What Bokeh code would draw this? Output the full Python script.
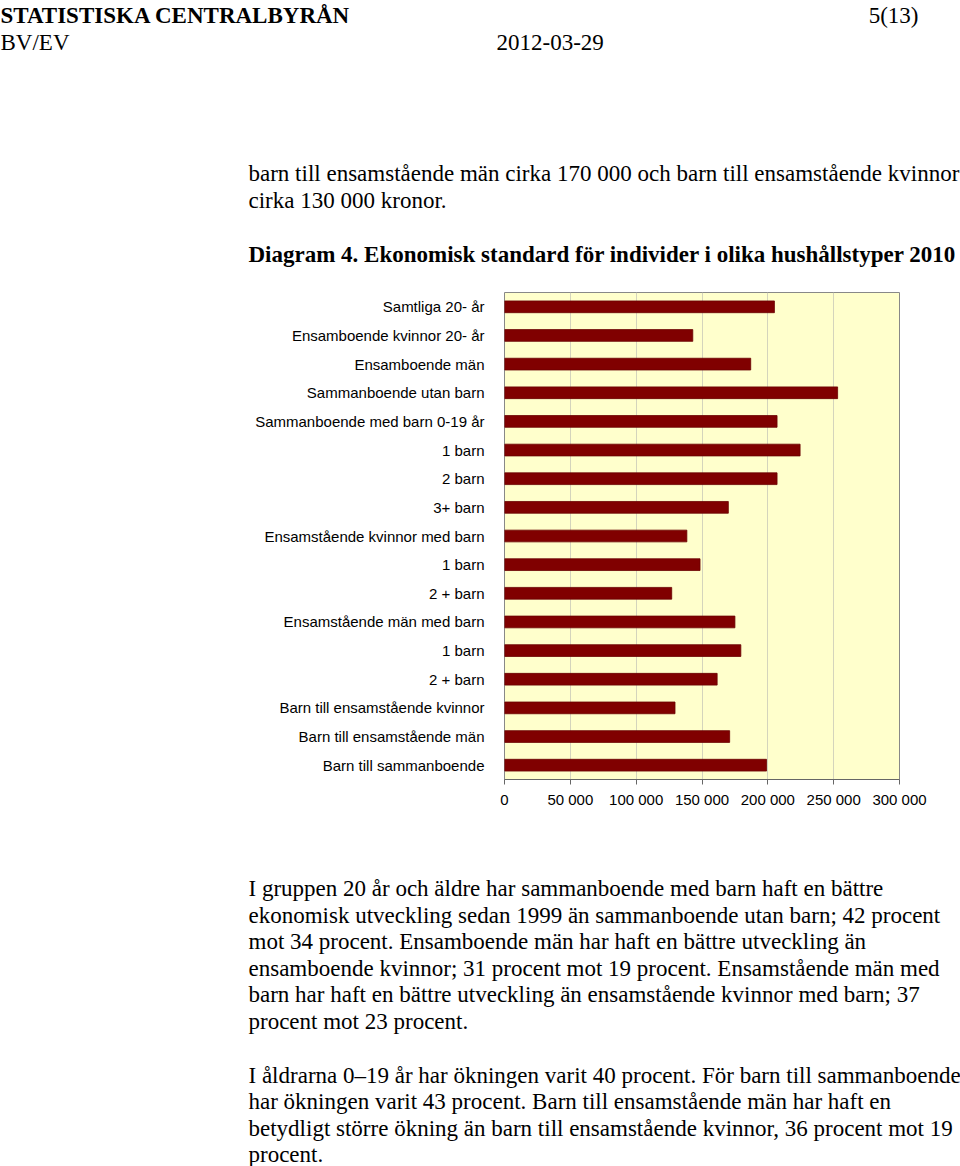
from bokeh.plotting import figure
from bokeh.models import Range1d, FixedTicker
from bokeh.layouts import column, row
from bokeh.core.properties import value
from bokeh.embed import file_html
from bokeh.resources import INLINE

categories = [
    "Samtliga 20- år",
    "Ensamboende kvinnor 20- år",
    "Ensamboende män",
    "Sammanboende utan barn",
    "Sammanboende med barn 0-19 år",
    "1 barn",
    "2 barn",
    "3+ barn",
    "Ensamstående kvinnor med barn",
    "1 barn",
    "2 + barn",
    "Ensamstående män med barn",
    "1 barn",
    "2 + barn",
    "Barn till ensamstående kvinnor",
    "Barn till ensamstående män",
    "Barn till sammanboende",
]
values = [205000, 143000, 187000, 253000, 207000, 224500, 207000, 170000,
          138500, 148500, 127000, 175000, 179500, 161500, 129500, 171000, 199000]
x_ticks = [0, 50000, 100000, 150000, 200000, 250000, 300000]
x_tick_labels = ["0", "50 000", "100 000", "150 000", "200 000", "250 000", "300 000"]

header_left = ["STATISTISKA CENTRALBYRÅN", "BV/EV"]
page_number = "5(13)"
doc_date = "2012-03-29"
intro_lines = [
    "barn till ensamstående män cirka 170 000 och barn till ensamstående kvinnor",
    "cirka 130 000 kronor.",
]
chart_title = "Diagram 4. Ekonomisk standard för individer i olika hushållstyper 2010"
para1 = [
    "I gruppen 20 år och äldre har sammanboende med barn haft en bättre",
    "ekonomisk utveckling sedan 1999 än sammanboende utan barn; 42 procent",
    "mot 34 procent. Ensamboende män har haft en bättre utveckling än",
    "ensamboende kvinnor; 31 procent mot 19 procent. Ensamstående män med",
    "barn har haft en bättre utveckling än ensamstående kvinnor med barn; 37",
    "procent mot 23 procent.",
]
para2 = [
    "I åldrarna 0–19 år har ökningen varit 40 procent. För barn till sammanboende",
    "har ökningen varit 43 procent. Barn till ensamstående män har haft en",
    "betydligt större ökning än barn till ensamstående kvinnor, 36 procent mot 19",
    "procent.",
]

W = 960
TOP_H, CHART_H, BOT_H = 275, 585, 306
SERIF = value("Liberation Serif")
FS = value("23px")


def text_fig(height):
    f = figure(width=W, height=height, output_backend="svg", toolbar_location=None,
               x_range=Range1d(0, W), y_range=Range1d(height, 0),
               min_border=0, min_border_left=0, min_border_right=0,
               min_border_top=0, min_border_bottom=0)
    f.axis.visible = False
    f.grid.visible = False
    f.outline_line_color = None
    f.background_fill_color = "white"
    f.border_fill_color = "white"
    return f


def put(f, xs, ys, texts, bold=False, align="left"):
    f.text(x=xs, y=ys, text=texts, text_font=SERIF, text_font_size=FS,
           text_font_style="bold" if bold else "normal", text_align=align,
           text_baseline="middle", text_color="black")


# ---- top text block
top = text_fig(TOP_H)
put(top, [0], [15], [header_left[0]], bold=True)
put(top, [0], [42], [header_left[1]])
put(top, [918], [15], [page_number], align="right")
put(top, [496], [42], [doc_date])
put(top, [248] * len(intro_lines), [173 + i * 26.5 for i in range(len(intro_lines))], intro_lines)
put(top, [248], [254], [chart_title], bold=True)

# ---- chart
n = len(categories)
ypos = [n - 1 - i for i in range(n)]
p = figure(width=W, height=CHART_H, output_backend="svg", toolbar_location=None,
           x_range=Range1d(0, 300000), y_range=Range1d(-0.5, n - 0.5),
           min_border_left=504, min_border_right=61, min_border_top=292 - TOP_H,
           min_border_bottom=TOP_H + CHART_H - 779, border_fill_color="white")
p.background_fill_color = "#FFFFCC"
p.outline_line_color = "#888888"
p.outline_line_width = 1

p.hbar(y=ypos, left=0, right=values, height=0.41,
       fill_color="#800000", line_color="#6a0000", line_width=0.8)

p.xaxis.ticker = FixedTicker(ticks=x_ticks)
p.xaxis.major_label_overrides = {t: l for t, l in zip(x_ticks, x_tick_labels)}
p.xaxis.axis_line_color = "#666666"
p.xaxis.major_tick_line_color = "#666666"
p.xaxis.major_tick_in = 0
p.xaxis.major_tick_out = 5
p.xaxis.minor_tick_line_color = None
p.xaxis.major_label_text_font = "Liberation Sans"
p.xaxis.major_label_text_font_size = "15px"
p.xaxis.major_label_text_color = "black"
p.xaxis.major_label_standoff = 6

p.yaxis.ticker = FixedTicker(ticks=ypos)
p.yaxis.major_label_overrides = {y: c for y, c in zip(ypos, categories)}
p.yaxis.axis_line_color = None
p.yaxis.major_tick_line_color = None
p.yaxis.minor_tick_line_color = None
p.yaxis.major_label_text_font = "Liberation Sans"
p.yaxis.major_label_text_font_size = "15px"
p.yaxis.major_label_text_color = "black"
p.yaxis.major_label_standoff = 14

p.xgrid.ticker = FixedTicker(ticks=x_ticks)
p.xgrid.grid_line_color = "#d4d4bc"
p.ygrid.grid_line_color = None

# ---- bottom text block
bot = text_fig(BOT_H)
off = TOP_H + CHART_H
put(bot, [248] * len(para1), [888 - off + i * 26.6 for i in range(len(para1))], para1)
put(bot, [248] * len(para2), [1075 - off + i * 26.3 for i in range(len(para2))], para2)

layout = column(row(top), row(p), row(bot), spacing=0)
open("out.html", "w").write(file_html(layout, INLINE))
